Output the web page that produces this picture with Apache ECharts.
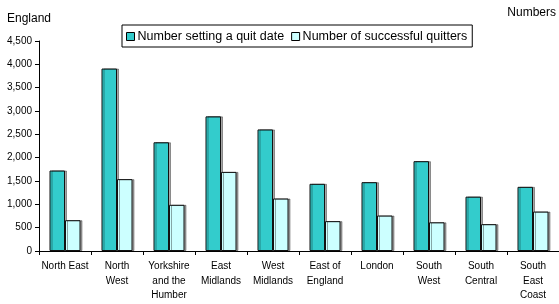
<!DOCTYPE html>
<html>
<head>
<meta charset="utf-8">
<script src="https://cdn.jsdelivr.net/npm/echarts@6/dist/echarts.min.js"></script>
<style>html,body{margin:0;padding:0;background:#fff;}#c{width:559px;height:304px;}</style>
</head>
<body>
<div id="c"></div>
<script>
const categories = ["North East", "North\nWest", "Yorkshire\nand the\nHumber", "East\nMidlands", "West\nMidlands", "East of\nEngland", "London", "South\nWest", "South\nCentral", "South\nEast\nCoast"];
const quitDate = [1725, 3910, 2330, 2885, 2605, 1440, 1475, 1925, 1165, 1375];
const successful = [660, 1540, 990, 1695, 1125, 640, 760, 615, 575, 845];
const seriesNames = ["Number setting a quit date", "Number of successful quitters"];
const yTicks = {min: 0, max: 4500, interval: 500};

const font = "Liberation Sans, Arial, sans-serif";
const chart = echarts.init(document.getElementById('c'), null, {renderer: 'canvas'});
const barStyle = (color) => ({
  color: color, borderColor: '#111', borderWidth: 1,
  shadowColor: 'rgba(0,0,0,0.35)', shadowOffsetX: 2, shadowOffsetY: 0, shadowBlur: 0
});
chart.setOption({
  animation: false,
  textStyle: {fontFamily: font, color: '#000'},
  graphic: [
    {type: 'text', left: 7, top: 13, style: {text: 'England', font: '12px ' + font, fill: '#000'}},
    {type: 'text', right: 3, top: 7, style: {text: 'Numbers', font: '12px ' + font, fill: '#000'}}
  ],
  legend: {
    left: 122, top: 25, orient: 'horizontal',
    borderColor: '#000', borderWidth: 1, padding: [5, 5, 4, 4],
    itemWidth: 8, itemHeight: 8, itemGap: 7,
    icon: 'rect',
    textStyle: {fontSize: 12.5, fontFamily: font, color: '#000', padding: [0, 0, 0, -2]},
    itemStyle: {borderColor: '#000', borderWidth: 1, shadowBlur: 0, shadowOffsetX: 0, shadowColor: 'transparent'},
    data: seriesNames
  },
  grid: {left: 39, right: -1, top: 41, bottom: 53, containLabel: false},
  xAxis: {
    type: 'category', data: categories, boundaryGap: true,
    axisLine: {lineStyle: {color: '#000', width: 1}},
    axisTick: {show: true, length: 4, lineStyle: {color: '#000'}},
    axisLabel: {fontSize: 10, fontFamily: font, color: '#000', lineHeight: 14.5, margin: 8, interval: 0}
  },
  yAxis: {
    type: 'value', min: yTicks.min, max: yTicks.max, interval: yTicks.interval,
    axisLine: {show: true, lineStyle: {color: '#000', width: 1}},
    axisTick: {show: true, length: 4, lineStyle: {color: '#000'}},
    splitLine: {show: false},
    axisLabel: {fontSize: 10, fontFamily: font, color: '#000', margin: 7,
      formatter: v => v.toLocaleString('en-US')}
  },
  series: [
    {name: seriesNames[0], type: 'bar', data: quitDate, barWidth: 15.5, barGap: '0%', itemStyle: barStyle('#33CCCC')},
    {name: seriesNames[1], type: 'bar', data: successful, barWidth: 15.5, barGap: '0%', itemStyle: barStyle('#CCFFFF')}
  ]
});
</script>
</body>
</html>
